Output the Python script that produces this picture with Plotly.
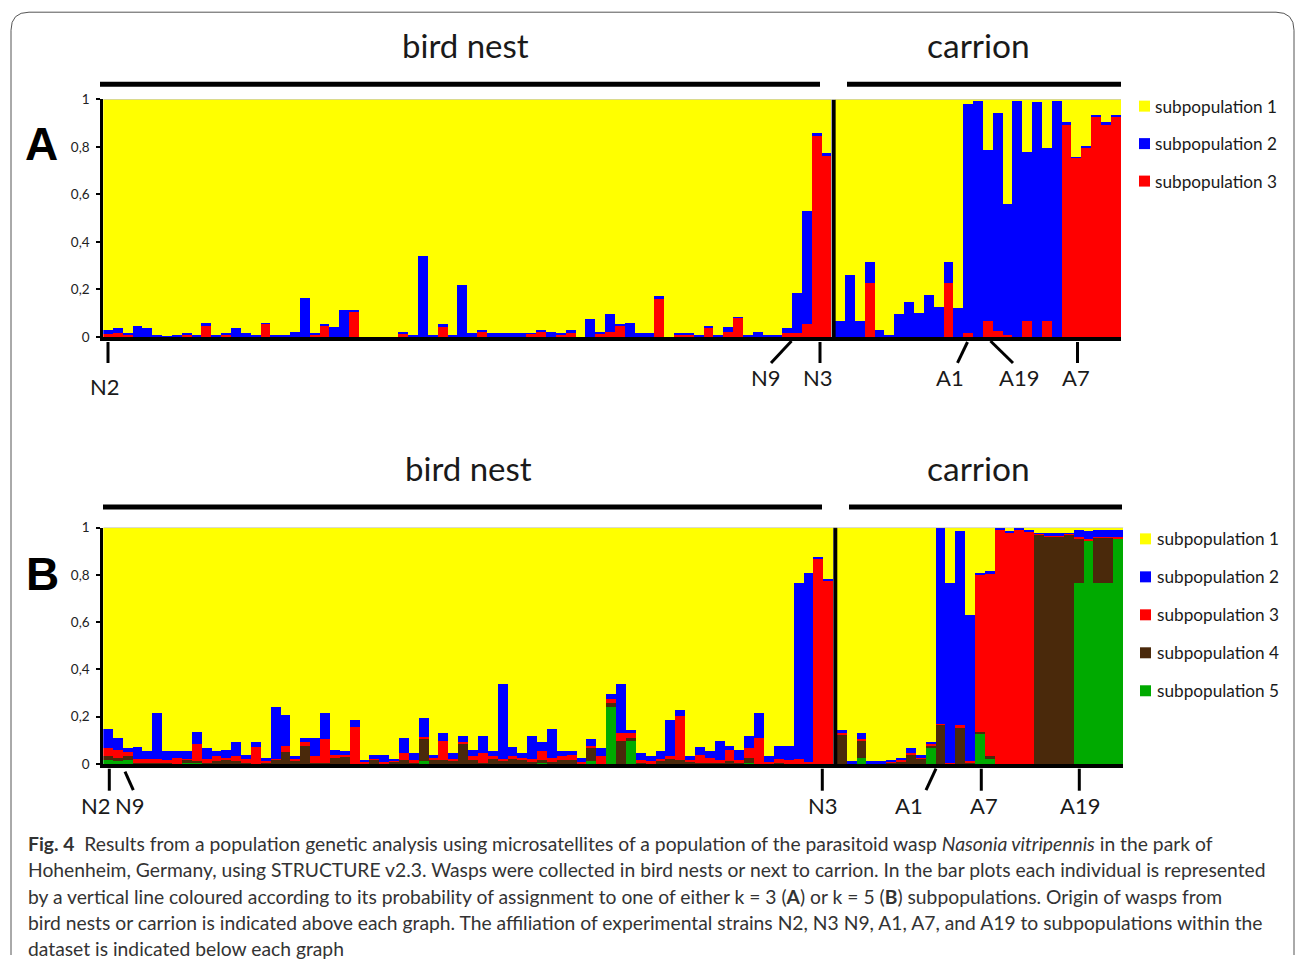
import plotly.graph_objects as go

W, H = 1295, 963

# ---------------- DATA ----------------
N_BIRD = 74
N_CARR = 29

# Panel A (k=3): proportions per individual (bird nest 74, then carrion 29)
a_sub3 = [.011,.014,.007,0,0,0,0,0,.007,0, .046,0,.007,0,0,0,.053,0,0,0,
          0,.007,.046,0,0,.105,0,0,0,0, .011,0,0,0,.039,0,0,0,.021,0,
          0,0,0,.011,.021,0,.007,.014,0,0, .014,.021,.046,0,0,0,.157,0,.007,.007,
          0,.034,0,.021,.079,0,0,0,0,.014, .014,.053,.844,.760,
          0,0,0,.224,0,0,0,0,0,0, 0,.224,0,.014,0,.067,.022,.008,0,.067,
          0,.067,0,.889,.752,.797,.928,.889,.928]
a_sub2 = [.017,.020,.007,.046,.034,.008,.003,.008,.007,.007, .013,.007,.007,.034,.014,.007,.006,.007,.007,.021,
          .164,.007,.007,.039,.112,.007,0,0,0,0, .010,.007,.341,.007,.014,.007,.216,.014,.007,.014,
          .014,.014,.014,.003,.007,.021,.007,.014,0,.073, .007,.072,.007,.059,.014,.014,.014,0,.007,.007,
          .007,.012,.007,.018,.002,.007,.021,.007,.007,.020, .171,.477,.013,.013,
          .067,.260,.067,.090,.028,.008,.093,.146,.100,.177, .126,.090,.119,.965,.993,.718,.919,.549,.993,.711,
          .986,.725,.993,.013,.005,.007,.006,.013,.006]
a_sub1 = [.972,.966,.986,.954,.966,.992,.997,.992,.986,.993, .941,.993,.986,.966,.986,.993,.941,.993,.993,.979,
          .836,.986,.947,.961,.888,.888,1,1,1,1, .979,.993,.659,.993,.947,.993,.784,.986,.972,.986,
          .986,.986,.986,.986,.972,.979,.986,.972,1,.927, .979,.907,.947,.941,.986,.986,.829,1,.986,.986,
          .993,.954,.993,.961,.919,.993,.979,.993,.993,.966, .815,.470,.143,.227,
          .933,.740,.933,.686,.972,.992,.907,.854,.900,.823, .874,.686,.881,.021,.007,.215,.059,.443,.007,.222,
          .014,.208,.007,.098,.243,.196,.066,.098,.066]

# Panel B (k=5)
b_sub5 = [.020,.014,.020,0,0,0,0,0,.006,.008, 0,0,0,0,0,0,0,0,0,.006,
          0,0,0,0,0,0,0,0,0,0, 0,0,.014,0,0,0,0,0,0,0,
          0,0,0,0,.006,0,0,0,0,.014, 0,.242,0,.099,0,0,0,0,0,0,
          0,0,0,0,0,.006,0,0,0,0, 0,0,0,0,
          0,0,.027,0,0,0,0,0,0,.070, 0,0,0,0,.132,.025,0,0,0,0,
          0,0,0,0,.769,.948,.769,.769,.955]
b_sub4 = [.014,.014,.014,.008,.008,.008,.008,.003,.014,.006, .008,.014,.020,.014,.008,.003,.008,.020,.054,.008,
          .080,.008,.008,.028,.034,.004,.006,.020,.006,.011, .020,.008,.096,.017,.017,.017,.085,.017,.006,.023,
          .017,.023,.017,.011,.011,.011,.017,.017,.006,.059, 0,.018,.100,.014,.006,.006,.017,.023,.017,.011,
          .008,.008,.006,.014,.006,.022,0,0,.008,0, 0,0,0,0,
          .127,0,.073,0,0,.008,.011,.042,.025,.009, .170,0,.158,.008,.007,.009,0,0,0,0,
          .973,.966,.966,.973,.186,0,.189,.189,0]
b_sub3 = [.034,.033,.020,.015,.015,.015,.009,.025,.005,.073, .015,.021,.008,.021,.015,.072,.006,.005,.026,.009,
          .014,.027,.099,.014,.004,.156,.005,.005,.005,.006, .028,.009,.008,.011,.083,.006,.009,.018,.042,.012,
          .006,.012,.011,.012,.039,.017,.018,.025,.005,.007, .035,.015,.034,.021,.011,.008,.006,.012,.187,.006,
          .034,.020,.011,.047,.011,.040,.113,.011,.015,.017, .023,.011,.870,.780,
          .005,.004,.007,.004,.004,.003,.006,.007,.003,.006, .002,.008,.008,.006,.661,.771,.990,.980,.990,.983,
          .004,.003,.003,.003,.005,.005,.004,.004,.005]
b_sub2 = [.084,.052,.014,.050,.033,.194,.039,.028,.031,.052, .045,.021,.033,.059,.019,.019,.014,.219,.131,.012,
          .019,.078,.110,.019,.018,.026,.006,.017,.031,.006, .065,.031,.079,.014,.032,.025,.026,.026,.072,.021,
          .319,.038,.020,.097,.038,.124,.021,.014,.017,.026, .033,.021,.208,.011,.031,.021,.033,.151,.027,.018,
          .031,.028,.083,.019,.044,.052,.105,.024,.057,.063, .743,.800,.007,.006,
          .013,.010,.025,.010,.010,.009,.011,.019,.014,.009, .828,.758,.820,.620,.011,.012,.010,.006,.010,.010,
          .003,.008,.008,.004,.030,.033,.028,.028,.030]
b_sub1 = [.848,.887,.932,.927,.944,.783,.944,.944,.944,.861, .932,.944,.939,.906,.958,.906,.972,.756,.789,.965,
          .887,.887,.783,.939,.944,.814,.983,.958,.958,.977, .887,.952,.803,.958,.868,.952,.880,.939,.880,.944,
          .658,.927,.952,.880,.906,.848,.944,.944,.972,.894, .932,.704,.658,.855,.952,.965,.944,.814,.769,.965,
          .927,.944,.900,.920,.939,.880,.782,.965,.920,.920, .234,.189,.123,.214,
          .855,.986,.868,.986,.986,.980,.972,.932,.958,.906, 0,.234,.014,.366,.189,.183,0,.014,0,.007,
          .020,.023,.023,.020,.010,.014,.010,.010,.010]

tick_vals = [0, 0.2, 0.4, 0.6, 0.8, 1]
legend_a = ["subpopulation 1", "subpopulation 2", "subpopulation 3"]
legend_b = ["subpopulation 1", "subpopulation 2", "subpopulation 3", "subpopulation 4", "subpopulation 5"]
strains_a = ["N2", "N9", "N3", "A1", "A19", "A7"]
strains_b = ["N2", "N9", "N3", "A1", "A7", "A19"]
origins = ["bird nest", "carrion"]

# ---------------- STYLE ----------------
YEL, BLU, RED, BRN, GRN = "#ffff00", "#0000ff", "#ff0000", "#4a290b", "#00aa00"
FONT = "Lato"
GAP = 0.38  # divider width, in bar units

xs = [i + 0.5 for i in range(N_BIRD)] + [N_BIRD + GAP + j + 0.5 for j in range(N_CARR)]
XMAX = N_BIRD + GAP + N_CARR

# vertical placement calibration (target pixel row -> figure row)
Y_OFF, Y_SCALE = 6.8, 0.984


def px(x):
    return x / W


def py(y):
    return 1 - ((y - Y_OFF) / Y_SCALE) / H


fig = go.Figure()

def add_bar(vals, color, name, xa, ya):
    fig.add_trace(go.Bar(x=xs, y=vals, width=1, marker=dict(color=color, line=dict(width=0)),
                         name=name, showlegend=False, xaxis=xa, yaxis=ya,
                         hovertemplate=name + ": %{y}<extra></extra>"))

add_bar(a_sub3, RED, "subpopulation 3", "x", "y")
add_bar(a_sub2, BLU, "subpopulation 2", "x", "y")
add_bar(a_sub1, YEL, "subpopulation 1", "x", "y")

add_bar(b_sub5, GRN, "subpopulation 5", "x2", "y2")
add_bar(b_sub4, BRN, "subpopulation 4", "x2", "y2")
add_bar(b_sub3, RED, "subpopulation 3", "x2", "y2")
add_bar(b_sub2, BLU, "subpopulation 2", "x2", "y2")
add_bar(b_sub1, YEL, "subpopulation 1", "x2", "y2")

ax_common = dict(range=[0, XMAX], showgrid=False, zeroline=False, showticklabels=False,
                 ticks="", showline=True, linecolor="black", linewidth=4, fixedrange=True)
ay_common = dict(range=[0, 1], showgrid=False, zeroline=False, tickvals=tick_vals,
                 ticks="outside", ticklen=4, tickwidth=2, tickcolor="black",
                 showline=True, linecolor="black", linewidth=3, ticklabelstandoff=4,
                 tickfont=dict(family=FONT, size=13.5, color="#222"), fixedrange=True)

fig.update_layout(
    width=W, height=H, autosize=False,
    margin=dict(l=0, r=0, t=0, b=0),
    paper_bgcolor="white", plot_bgcolor="white",
    barmode="stack", bargap=0, separators=", ",
    xaxis=dict(domain=[px(103.3), px(1121)], anchor="y", **ax_common),
    yaxis=dict(domain=[py(336), py(98.3)], anchor="x", **ay_common),
    xaxis2=dict(domain=[px(103.3), px(1123.3)], anchor="y2", **ax_common),
    yaxis2=dict(domain=[py(763.3), py(526.7)], anchor="x2", **ay_common),
)

shapes = []
ann = []

def line(x0, y0, x1, y1, w=3, color="black"):
    shapes.append(dict(type="line", xref="paper", yref="paper", x0=px(x0), y0=py(y0),
                       x1=px(x1), y1=py(y1), line=dict(color=color, width=w)))

def text(x, y, s, size, xanchor="center", family=FONT, color="#1a1a1a", bold=False):
    if bold:
        s = "<b>" + s + "</b>"
    ann.append(dict(xref="paper", yref="paper", x=px(x), y=py(y), text=s, showarrow=False,
                    xanchor=xanchor, yanchor="middle", font=dict(family=family, size=size, color=color)))

# outer frame (rounded), open at the bottom
r = 18
x0f, y0f, x1f = 11, 11, 1294
path = (f"M {px(x0f)} 0 L {px(x0f)} {py(y0f + r)} "
        f"Q {px(x0f)} {py(y0f)} {px(x0f + r)} {py(y0f)} "
        f"L {px(x1f - r)} {py(y0f)} Q {px(x1f)} {py(y0f)} {px(x1f)} {py(y0f + r)} "
        f"L {px(x1f)} 0")
shapes.append(dict(type="path", xref="paper", yref="paper", path=path,
                   line=dict(color="#555", width=1)))

# dividers between bird nest and carrion, thin gray top edge
for xa, ya in (("x", "y"), ("x2", "y2")):
    shapes.append(dict(type="line", xref=xa, yref=ya, x0=N_BIRD + GAP / 2, x1=N_BIRD + GAP / 2,
                       y0=0, y1=1, line=dict(color="black", width=4)))
    shapes.append(dict(type="line", xref=xa, yref=ya, x0=0, x1=XMAX, y0=1, y1=1,
                       line=dict(color="#b0b0a0", width=1)))

# origin headers
text(465, 44, origins[0], 33)
text(978, 44, origins[1], 33.5)
line(100, 83, 820, 83, w=5)
line(847, 83, 1121, 83, w=5)
text(468, 467, origins[0], 33)
text(979, 467, origins[1], 33.5)
line(103, 506, 822, 506, w=5)
line(849, 506, 1122, 506, w=5)

# panel letters
text(41, 143, "A", 46, family="Liberation Sans", color="black", bold=True)
text(42, 573, "B", 46, family="Liberation Sans", color="black", bold=True)

# strain markers, panel A
line(108, 341, 108, 362)
line(791.5, 340, 771, 362)
line(820, 341, 820, 362)
line(967.5, 341, 957.5, 362)
line(990.5, 340, 1013, 362)
line(1077.5, 341, 1077.5, 362)
for (x, y), s in zip([(105, 386), (766, 377), (818, 377), (950, 377), (1019, 377), (1076, 377)], strains_a):
    text(x, y, s, 22)

# strain markers, panel B
line(109.3, 768, 109.3, 790)
line(125, 771, 133.3, 789.5)
line(822.3, 768, 822.3, 790)
line(936, 768, 926, 789.5)
line(981.3, 768, 981.3, 790)
line(1079.3, 768, 1079.3, 790)
for (x, y), s in zip([(96, 805), (130, 805), (823, 805), (909, 805), (984, 805), (1080, 805)], strains_b):
    text(x, y, s, 22)

# legends
for i, (s, c) in enumerate(zip(legend_a, [YEL, BLU, RED])):
    yc = 105 + i * 37.5
    shapes.append(dict(type="rect", xref="paper", yref="paper", x0=px(1139), x1=px(1150),
                       y0=py(yc + 5.5), y1=py(yc - 5.5), fillcolor=c, line=dict(width=0)))
    text(1153, yc, s, 17.2, xanchor="left")
for i, (s, c) in enumerate(zip(legend_b, [YEL, BLU, RED, BRN, GRN])):
    yc = 538 + i * 38
    shapes.append(dict(type="rect", xref="paper", yref="paper", x0=px(1140), x1=px(1151),
                       y0=py(yc + 5.5), y1=py(yc - 5.5), fillcolor=c, line=dict(width=0)))
    text(1155, yc, s, 17.2, xanchor="left")

# caption
cap = [
    "<b>Fig. 4</b>  Results from a population genetic analysis using microsatellites of a population of the parasitoid wasp <i>Nasonia vitripennis</i> in the park of",
    "Hohenheim, Germany, using STRUCTURE v2.3. Wasps were collected in bird nests or next to carrion. In the bar plots each individual is represented",
    "by a vertical line coloured according to its probability of assignment to one of either k = 3 (<b>A</b>) or k = 5 (<b>B</b>) subpopulations. Origin of wasps from",
    "bird nests or carrion is indicated above each graph. The affiliation of experimental strains N2, N3 N9, A1, A7, and A19 to subpopulations within the",
    "dataset is indicated below each graph",
]
for i, s in enumerate(cap):
    text(26, 843 + i * 26.2, s, 19.3, xanchor="left", color="#333")

fig.update_layout(shapes=shapes, annotations=ann)
fig.write_html(
    "out.html",
    config={"displayModeBar": False},
    post_script=("document.documentElement.style.overflow='hidden';"
                 "document.body.style.margin='0';document.body.style.overflow='hidden';"
                 "var d=document.getElementById('{plot_id}');"
                 "d.style.position='absolute';d.style.top='0px';d.style.left='0px';"),
)
